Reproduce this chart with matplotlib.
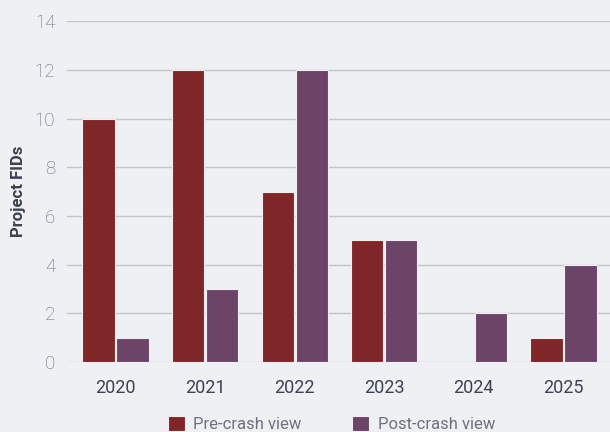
import matplotlib.pyplot as plt
import numpy as np

plt.rcParams['font.family'] = ['Roboto', 'DejaVu Sans']

# Datos
anios = ['2020', '2021', '2022', '2023', '2024', '2025']
pre_crash = [10, 12, 7, 5, 0, 1]
post_crash = [1, 3, 12, 5, 2, 4]

fondo = '#eff0f4'
rojo = '#7f2629'
morado = '#6c4468'

fig = plt.figure(figsize=(6.1, 4.32), dpi=100, facecolor=fondo)
ax = fig.add_axes([0.11, 0.162, 0.89, 0.789], facecolor=fondo)

x = np.arange(len(anios))
ancho = 0.36
ax.bar(x - 0.19, pre_crash, ancho, color=rojo, edgecolor='#f4eef0', linewidth=0.8,
       label='Pre-crash view', zorder=3)
ax.bar(x + 0.19, post_crash, ancho, color=morado, edgecolor='#f4eef0', linewidth=0.8,
       label='Post-crash view', zorder=3)

ax.set_xlim(-0.54, 5.52)
ax.set_ylim(0, 14)
ax.set_yticks(range(0, 15, 2))
ax.set_xticks(x)
ax.set_xticklabels(anios)
ax.grid(axis='y', color='#c4c4c8', linewidth=1, zorder=0)
for s in ax.spines.values():
    s.set_visible(False)
ax.tick_params(length=0)
ax.tick_params(axis='y', labelsize=13.5, labelcolor='#646b7a', pad=8.5)
ax.tick_params(axis='x', labelsize=13, labelcolor='#3b4252', pad=12)
for t in ax.get_yticklabels():
    t.set_fontweight('light')
ax.set_ylabel('Project FIDs', fontsize=12, fontweight='bold', color='#3a4150')
ax.yaxis.set_label_coords(-0.075, 0.5)

leg = fig.legend(loc='lower center', bbox_to_anchor=(0.543, -0.035), ncol=2, frameon=False,
                 fontsize=12, labelcolor='#6b7280', handlelength=1.05, handleheight=1.05,
                 handletextpad=0.5, columnspacing=3.0)

fig.savefig('out.png', dpi=100, facecolor=fondo)
